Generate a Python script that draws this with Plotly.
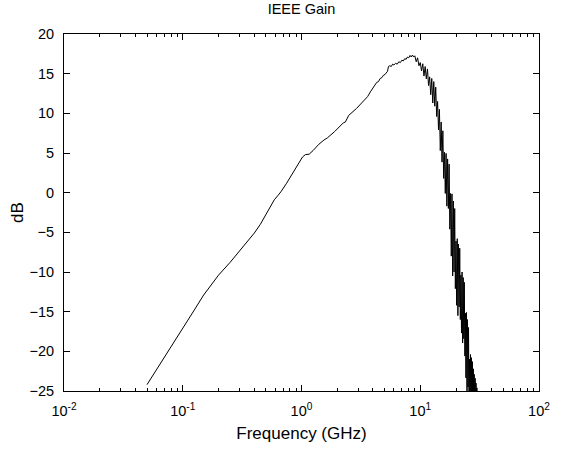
import plotly.graph_objects as go

# Frequency (GHz) and gain (dB)
freq_smooth = [0.05, 0.07, 0.1, 0.125, 0.15, 0.175, 0.2, 0.25, 0.3, 0.35, 0.4, 0.45,
               0.5, 0.55, 0.59, 0.63, 0.67, 0.75, 0.85, 0.95, 1.02, 1.08, 1.16, 1.25,
               1.4, 1.55, 1.65, 1.9, 2.13, 2.25, 2.34, 2.5, 2.9, 3.37, 3.6, 3.8, 4.0,
               4.15, 4.3, 4.45, 4.6, 4.75, 4.9, 5.05, 5.2, 5.3, 5.4, 5.55, 5.7, 5.85,
               6.0, 6.2, 6.4, 6.6, 6.8, 7.0, 7.2, 7.4, 7.6, 7.8, 8.0, 8.2, 8.4, 8.6, 8.8]
gain_smooth = [-24.2, -20.8, -17.1, -14.8, -12.9, -11.5, -10.4, -8.8, -7.4, -6.2, -5.1, -4.0,
               -2.8, -1.7, -0.9, -0.4, 0.1, 1.2, 2.5, 3.7, 4.5, 4.8, 4.85, 5.3,
               6.1, 6.65, 6.9, 7.7, 8.5, 8.8, 8.9, 9.75, 10.6, 11.6, 12.1, 12.7, 13.2,
               13.5, 13.9, 14.0, 14.4, 14.5, 14.8, 14.9, 15.1, 15.3, 15.9, 16.0, 15.9, 16.2,
               16.1, 16.3, 16.2, 16.5, 16.4, 16.7, 16.6, 16.9, 16.8, 17.1, 17.0, 17.3, 17.1, 17.35, 17.1]

freq_noisy = [9.00, 9.25, 9.50, 9.75, 10.00, 10.25, 10.50, 10.75, 11.00, 11.25, 11.50, 11.75,
              12.00, 12.25, 12.50, 12.75, 13.00, 13.25, 13.50, 13.75, 14.00, 14.25, 14.50, 14.75,
              15.00, 15.25, 15.50, 15.75, 16.00, 16.25, 16.50, 16.75, 17.00, 17.25, 17.50, 17.75,
              18.00, 18.25, 18.50, 18.75, 19.00, 19.25, 19.50, 19.75, 20.00, 20.25, 20.50, 20.75,
              21.00, 21.25, 21.50, 21.75, 22.00, 22.25, 22.50, 22.75, 23.00, 23.25, 23.50, 23.75,
              24.00, 24.25, 24.50, 24.75, 25.00, 25.25, 25.50, 25.75, 26.00, 26.25, 26.50, 26.75,
              27.00, 27.25, 27.50, 27.75, 28.00, 28.25, 28.50, 28.75, 29.00, 29.25, 29.50, 29.75,
              30.00, 30.25, 30.50]
gain_noisy = [17.25, 16.5, 17.0, 16.0, 16.4, 15.35, 16.25, 14.7, 15.9, 14.35, 15.6, 13.5,
              14.6, 12.35, 14.4, 11.3, 14.0, 10.9, 13.3, 9.6, 11.5, 7.9, 10.5, 5.3,
              8.9, 3.85, 7.8, 1.8, 5.1, -0.1, 4.95, -1.7, 4.25, -2.0, 3.6, -4.6,
              -0.1, -8.0, -0.15, -10.5, -1.05, -10.0, -2.0, -12.1, -6.1, -14.2, -5.8, -15.5,
              -6.5, -14.4, -7.0, -16.0, -10.4, -17.7, -10.0, -18.95, -10.7, -18.4, -11.3, -20.6,
              -15.2, -23.35, -15.1, -25.2, -16.0, -24.5, -17.0, -26.3, -21.0, -28.2, -20.4, -29.1,
              -20.8, -29.0, -21.3, -30.0, -22.2, -30.5, -22.9, -31.0, -23.4, -31.5, -24.0, -32.0,
              -24.6, -32.5, -25.2]

freq = freq_smooth + freq_noisy
gain = gain_smooth + gain_noisy

x_tickvals = [0.01, 0.1, 1, 10, 100]
x_ticktext = ["10<sup>-2</sup>", "10<sup>-1</sup>", "10<sup>0</sup>", "10<sup>1</sup>", "10<sup>2</sup>"]
y_tickvals = [-25, -20, -15, -10, -5, 0, 5, 10, 15, 20]
x_minor = [m * 10 ** k for k in range(-2, 2) for m in range(2, 10)]

FONT = "Liberation Sans, Arial, sans-serif"

fig = go.Figure()
fig.add_trace(go.Scatter(x=freq, y=gain, mode="lines",
                         line=dict(color="black", width=1), showlegend=False,
                         hoverinfo="skip"))

fig.update_layout(
    width=562, height=451,
    margin=dict(l=64, r=18, t=34, b=54),
    paper_bgcolor="white", plot_bgcolor="white",
    font=dict(family=FONT, size=14.5, color="black"),
    title=dict(text="IEEE Gain", x=0.5, xref="paper", xanchor="center",
               y=1, yref="container", yanchor="top", pad=dict(t=4),
               font=dict(family=FONT, size=14.5, color="black")),
)
fig.update_xaxes(
    type="log", range=[-2, 2],
    tickmode="array", tickvals=x_tickvals, ticktext=x_ticktext,
    ticks="inside", ticklen=6, tickwidth=1, tickcolor="black",
    minor=dict(tickmode="array", tickvals=x_minor, ticks="inside", ticklen=3,
               tickwidth=1, tickcolor="black", showgrid=False),
    showline=True, linecolor="black", linewidth=1, mirror="ticks",
    showgrid=False, zeroline=False,
    title=dict(text="Frequency (GHz)", standoff=8),
    ticklabelstandoff=7,
    tickfont=dict(size=14.5),
)
fig.update_yaxes(
    range=[-25, 20],
    tickmode="array", tickvals=y_tickvals,
    ticks="inside", ticklen=6, tickwidth=1, tickcolor="black",
    showline=True, linecolor="black", linewidth=1, mirror="ticks",
    showgrid=False, zeroline=False,
    title=dict(text="dB", standoff=1),
    ticklabelstandoff=6,
    tickfont=dict(size=14.5),
)

fig.write_html("out.html")
